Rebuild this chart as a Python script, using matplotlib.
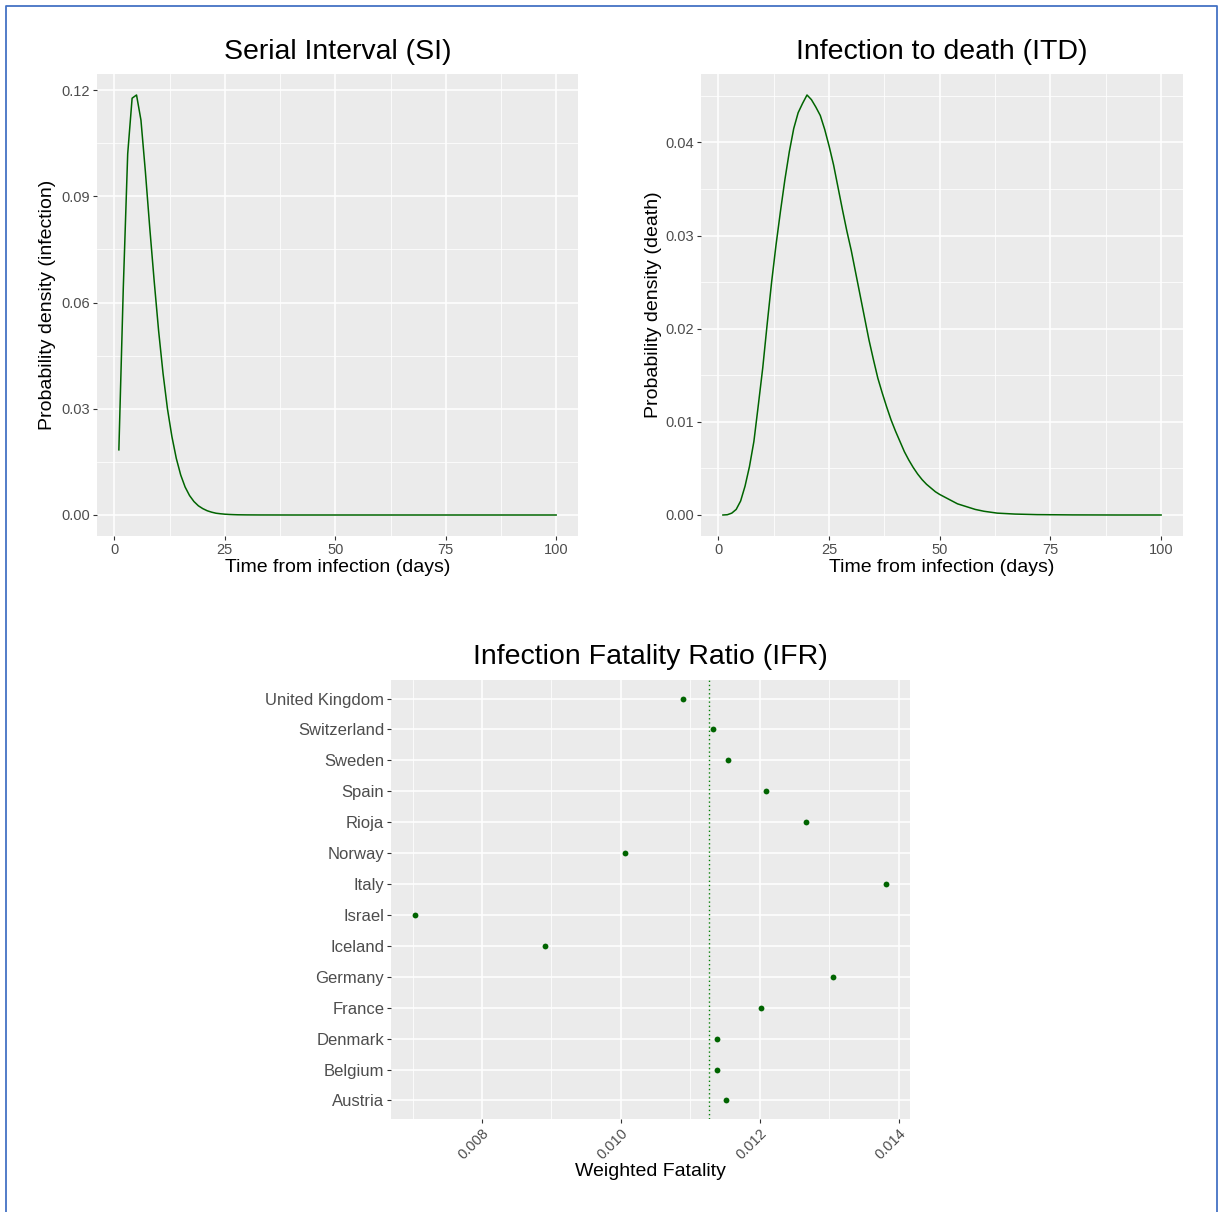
import matplotlib
matplotlib.use('Agg')
import matplotlib.pyplot as plt
from matplotlib.lines import Line2D
from matplotlib.ticker import FixedLocator, FormatStrFormatter

plt.rcParams['font.family'] = ['Liberation Sans', 'DejaVu Sans']

# ---------------- data ----------------
si_days = [1, 2, 3, 4, 5, 6, 7, 8, 9, 10, 11, 12, 13, 14, 15, 16, 17, 18, 19, 20,
           21, 22, 23, 24, 25, 26, 27, 28, 30, 33, 40, 50, 60, 70, 80, 90, 100]
si_density = [0.0184, 0.064, 0.102, 0.1177, 0.1186, 0.1115, 0.097, 0.081, 0.066, 0.052,
              0.040, 0.030, 0.0222, 0.0160, 0.0113, 0.0079, 0.0055, 0.0038, 0.0026, 0.0018,
              0.0012, 0.0008, 0.0005, 0.00035, 0.00023, 0.00015, 0.0001, 0.00006, 0.00003,
              0.00001, 0.0, 0.0, 0.0, 0.0, 0.0, 0.0, 0.0]

itd_days = [1, 2, 3, 4, 5, 6, 7, 8, 9, 10, 11, 12, 13, 14, 15, 16, 17, 18, 19, 20,
            21, 22, 23, 24, 25, 26, 27, 28, 29, 30, 31, 32, 33, 34, 35, 36, 37, 38, 39, 40,
            41, 42, 43, 44, 45, 46, 47, 48, 49, 50, 52, 54, 56, 58, 60, 63, 67, 72, 80, 90, 100]
itd_density = [0.0, 0.00003, 0.0002, 0.0006, 0.0015, 0.0031, 0.0052, 0.0079, 0.0118, 0.0158,
               0.0205, 0.0250, 0.0290, 0.0326, 0.0360, 0.0390, 0.0415, 0.0432, 0.0442, 0.0451,
               0.0446, 0.0438, 0.0429, 0.0414, 0.0396, 0.0376, 0.0352, 0.0328, 0.0305, 0.0284,
               0.0260, 0.0236, 0.0212, 0.0188, 0.0167, 0.0147, 0.0131, 0.0116, 0.0102, 0.0090,
               0.0079, 0.0068, 0.0059, 0.0051, 0.0044, 0.0038, 0.0033, 0.0029, 0.0025, 0.0022,
               0.0017, 0.0012, 0.0009, 0.0006, 0.0004, 0.0002, 0.0001, 0.00004, 0.00001, 0.0, 0.0]

countries = ["Austria", "Belgium", "Denmark", "France", "Germany", "Iceland", "Israel",
             "Italy", "Norway", "Rioja", "Spain", "Sweden", "Switzerland", "United Kingdom"]
ifr = [0.01151, 0.01138, 0.01138, 0.01201, 0.01305, 0.00891, 0.00703,
       0.01382, 0.01006, 0.01267, 0.01208, 0.01154, 0.01133, 0.01089]

si_xticks = [0, 25, 50, 75, 100]
si_yticks = [0.00, 0.03, 0.06, 0.09, 0.12]
itd_yticks = [0.00, 0.01, 0.02, 0.03, 0.04]
ifr_xticks = [0.008, 0.010, 0.012, 0.014]

# ---------------- layout ----------------
W, H = 1218, 1212
fig = plt.figure(figsize=(W / 100, H / 100), dpi=100)
fig.patch.set_facecolor('white')


def rect(x0, y0, x1, y1):
    return [x0 / W, 1 - y1 / H, (x1 - x0) / W, (y1 - y0) / H]


def fx(x):
    return x / W


def fy(y):
    return 1 - y / H


GREEN = '#006400'
BG = '#EBEBEB'


def style(ax):
    ax.set_facecolor(BG)
    for s in ax.spines.values():
        s.set_visible(False)
    ax.tick_params(which='major', length=2.75, width=0.8, color='#333333',
                   labelcolor='#4D4D4D', labelsize=10.5, pad=2.2)
    ax.tick_params(which='minor', length=0)
    ax.grid(which='major', color='white', lw=1.1)
    ax.grid(which='minor', color='white', lw=0.55)
    ax.set_axisbelow(True)


# Serial interval
ax1 = fig.add_axes(rect(97, 74, 578, 536))
style(ax1)
ax1.plot(si_days, si_density, color=GREEN, lw=1.1)
ax1.margins(x=0.05, y=0.05)
ax1.xaxis.set_major_locator(FixedLocator(si_xticks))
ax1.xaxis.set_minor_locator(FixedLocator([12.5, 37.5, 62.5, 87.5]))
ax1.yaxis.set_major_locator(FixedLocator(si_yticks))
ax1.yaxis.set_minor_locator(FixedLocator([0.015, 0.045, 0.075, 0.105]))
ax1.yaxis.set_major_formatter(FormatStrFormatter('%.2f'))
fig.text(fx(337.5), fy(52), 'Serial Interval (SI)', ha='center', va='center', fontsize=20.5)
fig.text(fx(337.5), fy(567), 'Time from infection (days)', ha='center', va='center', fontsize=14)
fig.text(fx(48), fy(305), 'Probability density (infection)', ha='center', va='center',
         fontsize=14, rotation=90)

# Infection to death
ax2 = fig.add_axes(rect(701, 74, 1183, 536))
style(ax2)
ax2.plot(itd_days, itd_density, color=GREEN, lw=1.1)
ax2.margins(x=0.05, y=0.05)
ax2.xaxis.set_major_locator(FixedLocator(si_xticks))
ax2.xaxis.set_minor_locator(FixedLocator([12.5, 37.5, 62.5, 87.5]))
ax2.yaxis.set_major_locator(FixedLocator(itd_yticks))
ax2.yaxis.set_minor_locator(FixedLocator([0.005, 0.015, 0.025, 0.035, 0.045]))
ax2.yaxis.set_major_formatter(FormatStrFormatter('%.2f'))
fig.text(fx(942), fy(52), 'Infection to death (ITD)', ha='center', va='center', fontsize=20.5)
fig.text(fx(942), fy(567), 'Time from infection (days)', ha='center', va='center', fontsize=14)
fig.text(fx(654), fy(305), 'Probability density (death)', ha='center', va='center',
         fontsize=14, rotation=90)

# IFR
ax3 = fig.add_axes(rect(391, 680, 910, 1119))
style(ax3)
ax3.plot(ifr, countries, 'o', color=GREEN, markersize=4.2, markeredgewidth=0)
mean_ifr = sum(ifr) / len(ifr)
ax3.axvline(mean_ifr, color='#0A800A', lw=1.0, linestyle=(0, (1, 2)))
ax3.margins(x=0.05)
ax3.set_ylim(-0.6, len(countries) - 0.4)
ax3.xaxis.set_major_locator(FixedLocator(ifr_xticks))
ax3.xaxis.set_minor_locator(FixedLocator([0.007, 0.009, 0.011, 0.013]))
ax3.xaxis.set_major_formatter(FormatStrFormatter('%.3f'))
ax3.tick_params(axis='y', labelsize=12)
ax3.tick_params(axis='x', labelsize=10.5)
for lab in ax3.get_xticklabels():
    lab.set_rotation(45)
    lab.set_ha('right')
    lab.set_va('top')
    lab.set_rotation_mode('anchor')
ax3.grid(axis='y', which='minor', visible=False)
fig.text(fx(650.5), fy(657), 'Infection Fatality Ratio (IFR)', ha='center', va='center', fontsize=20.5)
fig.text(fx(650.5), fy(1172), 'Weighted Fatality', ha='center', va='center', fontsize=14)

# outer blue frame
frame = Line2D([fx(6), fx(6), fx(1217), fx(1217)], [fy(1220), fy(6), fy(6), fy(1220)],
               transform=fig.transFigure, color='#4472C4', lw=1.3)
fig.add_artist(frame)

fig.savefig('out.png', dpi=100)
